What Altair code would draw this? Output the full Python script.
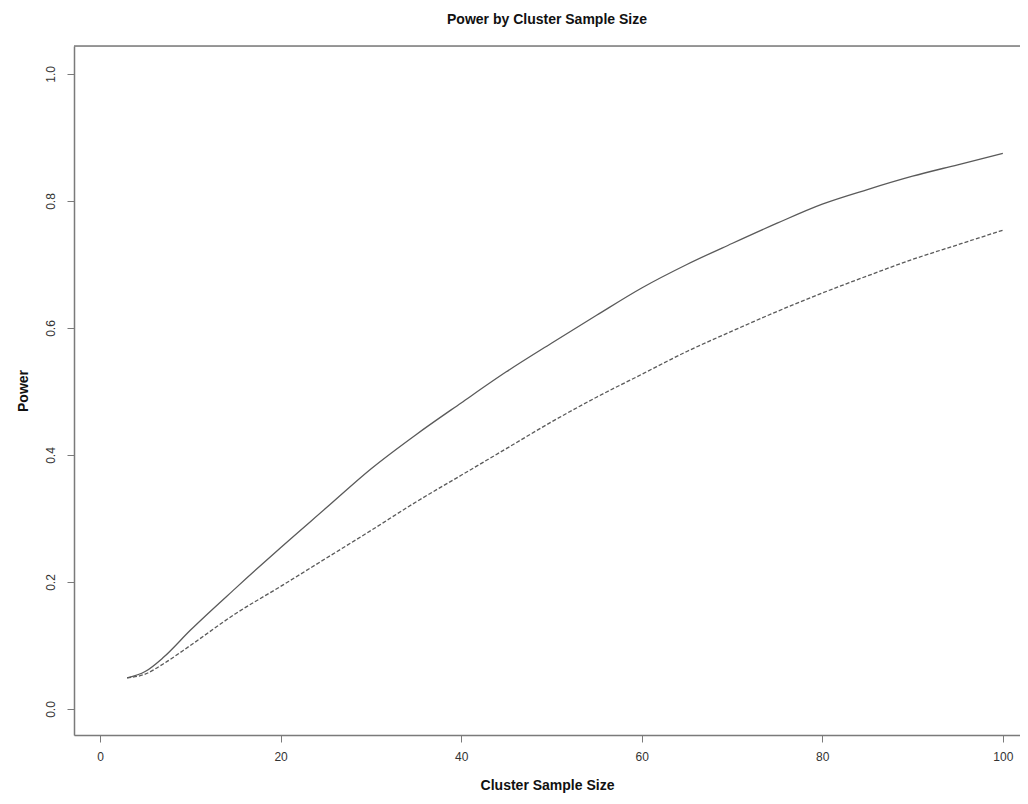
import altair as alt
import pandas as pd

# Cluster sample size values at which the curves were read
sizes = [3, 5, 7, 10, 15, 20, 25, 30, 35, 40, 45, 50, 55, 60, 65, 70, 75, 80, 85, 90, 95, 100]
# Solid curve power
power_solid = [0.049, 0.059, 0.081, 0.124, 0.190, 0.254, 0.316, 0.378, 0.432, 0.482, 0.531, 0.576,
               0.620, 0.663, 0.700, 0.733, 0.765, 0.795, 0.818, 0.839, 0.857, 0.875]
# Dashed curve power
power_dashed = [0.049, 0.055, 0.071, 0.100, 0.150, 0.193, 0.237, 0.281, 0.326, 0.368, 0.410, 0.452,
                0.491, 0.527, 0.563, 0.595, 0.626, 0.655, 0.682, 0.708, 0.731, 0.754]

x_ticks = [0, 20, 40, 60, 80, 100]
y_ticks = [0.0, 0.2, 0.4, 0.6, 0.8, 1.0]

df = pd.DataFrame({"size": sizes, "solid": power_solid, "dashed": power_dashed})

W, H = 946, 689
FONT = "Liberation Sans"
GRAY = "#7a7a7a"
LINE = "#5a5a5a"

xscale = alt.Scale(domain=[-2.88, 101.9], nice=False, zero=False)
yscale = alt.Scale(domain=[-0.0409, 1.044], nice=False, zero=False)

xaxis = alt.Axis(values=x_ticks, format="d", grid=False, tickSize=7, tickColor=GRAY,
                 domainColor=GRAY, domainWidth=1.5, labelPadding=9, labelFontSize=12,
                 labelColor="#333", labelFont=FONT, title="Cluster Sample Size",
                 titleFont=FONT, titleFontSize=14, titleFontWeight="bold", titlePadding=16,
                 titleColor="#111")
yaxis = alt.Axis(values=y_ticks, format=".1f", grid=False, tickSize=7, tickColor=GRAY,
                 domainColor=GRAY, domainWidth=1.5, labelPadding=10, labelFontSize=12,
                 labelAngle=270, labelAlign="center", labelBaseline="bottom",
                 labelColor="#333", labelFont=FONT, title="Power", titleFont=FONT,
                 titleFontSize=14, titleFontWeight="bold", titlePadding=14, titleColor="#111")

base = alt.Chart(df)

solid = base.mark_line(color=LINE, strokeWidth=1.3, interpolate="monotone").encode(
    x=alt.X("size:Q", scale=xscale, axis=xaxis),
    y=alt.Y("solid:Q", scale=yscale, axis=yaxis),
)
dashed = base.mark_line(color=LINE, strokeWidth=1.3, strokeDash=[4, 2],
                        interpolate="monotone").encode(
    x=alt.X("size:Q", scale=xscale),
    y=alt.Y("dashed:Q", scale=yscale),
)
top = alt.Chart(pd.DataFrame({"a": [0]})).mark_rule(color=GRAY, strokeWidth=1.5).encode(
    x=alt.value(0), x2=alt.value(W), y=alt.value(0)
)

chart = (
    alt.layer(solid, dashed, top)
    .properties(
        width=W, height=H,
        title=alt.TitleParams("Power by Cluster Sample Size", font=FONT, fontSize=14,
                              fontWeight="bold", color="#111", anchor="middle", offset=18),
        autosize=alt.AutoSizeParams(type="none"),
        padding={"left": 66, "top": 38, "right": 0, "bottom": 58},
    )
    .configure_view(stroke=None)
    .configure(background="white")
)

chart.save("out.html", embed_options={"renderer": "svg", "actions": False})
